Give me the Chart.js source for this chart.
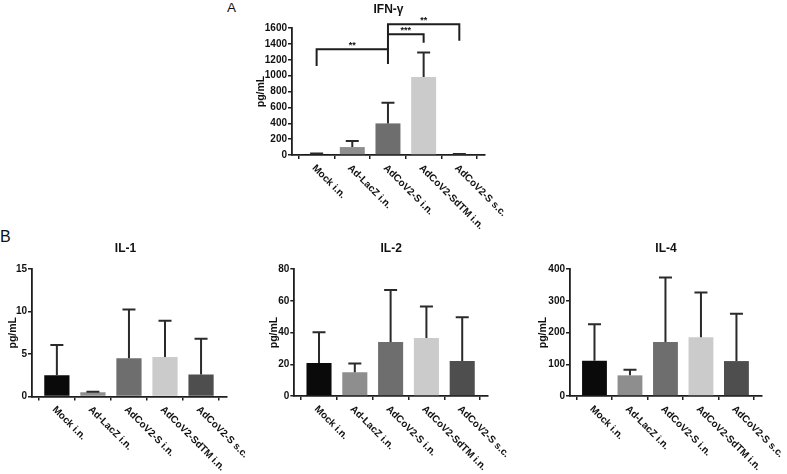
<!DOCTYPE html>
<html><head><meta charset="utf-8">
<script src="https://cdn.jsdelivr.net/npm/chart.js@4.4.1/dist/chart.umd.min.js"></script>
<style>
html,body{margin:0;padding:0;background:#fff;width:787px;height:474px;overflow:hidden;position:relative;font-family:"Liberation Sans",Arial,sans-serif}
canvas{position:absolute}
.lab{position:absolute;font-family:"Liberation Sans",Arial,sans-serif;color:#111;line-height:1}
</style></head><body>
<div class="lab" style="left:227px;top:1px;font-size:13.5px">A</div>
<div class="lab" style="left:0px;top:229px;font-size:16px">B</div>
<canvas id="cA" width="340" height="240" style="left:200px;top:0px"></canvas>
<canvas id="c1" width="262" height="244" style="left:0px;top:230px"></canvas>
<canvas id="c2" width="270" height="244" style="left:260px;top:230px"></canvas>
<canvas id="c4" width="267" height="244" style="left:520px;top:230px"></canvas>
<script>
// ---- data ----
const categories = ['Mock i.n.', 'Ad-LacZ i.n.', 'AdCoV2-S i.n.', 'AdCoV2-SdTM i.n.', 'AdCoV2-S s.c.'];
const barColors = ['#0a0a0a', '#8e8e8e', '#6e6e6e', '#cbcbcb', '#4e4e4e'];

const ifnMean  = [13, 100, 398, 982, 10];
const ifnUpper = [18, 176, 658, 1290, 12];
const ifnTicks = [0, 200, 400, 600, 800, 1000, 1200, 1400, 1600];

const il1Mean  = [2.5, 0.5, 4.5, 4.65, 2.6];
const il1Upper = [6.05, 0.55, 10.25, 8.9, 6.8];
const il1Ticks = [0, 5, 10, 15];

const il2Mean  = [20.8, 14.9, 34.0, 36.5, 22.0];
const il2Upper = [40.1, 20.4, 66.8, 56.3, 49.6];
const il2Ticks = [0, 20, 40, 60, 80];

const il4Mean  = [111, 65, 170, 185, 110];
const il4Upper = [226, 83, 373, 326, 259];
const il4Ticks = [0, 100, 200, 300, 400];

// significance brackets for IFN-γ (from group, to group, bar height, leg ends, label)
const ifnBrackets = [
  {from: 0, to: 2, y: 1332, legFrom: 1122, legTo: 1147, label: '**'},
  {from: 2, to: 3, y: 1520, legFrom: 1520, legTo: 1415, label: '***'},
  {from: 2, to: 4, y: 1646, legFrom: 1332, legTo: 1440, label: '**'}
];

// ---- drawing ----
const FONT = '"Liberation Sans", Arial, sans-serif';
Chart.defaults.font.family = FONT;
const INK = '#1e1e1e';
const extras = {};

const annot = {
  id: 'annot',
  afterDatasetsDraw(chart) {
    const e = extras[chart.canvas.id];
    const {ctx, chartArea} = chart;
    const x = chart.scales.x, y = chart.scales.y;
    ctx.save();
    // error bars (upper)
    ctx.strokeStyle = '#2a2a2a';
    ctx.lineWidth = 2;
    e.upper.forEach((u, i) => {
      const px = x.getPixelForValue(i);
      const top = y.getPixelForValue(u);
      const base = y.getPixelForValue(e.mean[i]);
      ctx.beginPath();
      ctx.moveTo(px, base); ctx.lineTo(px, top);
      ctx.moveTo(px - 6.5, top); ctx.lineTo(px + 6.5, top);
      ctx.stroke();
    });
    // x labels rotated
    ctx.fillStyle = '#111';
    ctx.font = 'bold 10px ' + FONT;
    ctx.textAlign = 'left';
    ctx.textBaseline = 'middle';
    categories.forEach((c, i) => {
      const px = x.getPixelForValue(i);
      ctx.save();
      ctx.translate(px - 3, chartArea.bottom + 11.5);
      ctx.rotate(Math.PI / 4);
      ctx.fillText(c, 0, 0);
      ctx.restore();
    });
    // y title
    ctx.save();
    ctx.font = 'bold 10.5px ' + FONT;
    ctx.textAlign = 'center';
    ctx.textBaseline = 'middle';
    ctx.translate(chartArea.left - e.yTitleOff, (chartArea.top + chartArea.bottom) / 2);
    ctx.rotate(-Math.PI / 2);
    ctx.fillText('pg/mL', 0, 0);
    ctx.restore();
    // chart title
    ctx.font = 'bold 12px ' + FONT;
    ctx.textAlign = 'center';
    ctx.textBaseline = 'middle';
    ctx.fillText(e.title, (chartArea.left + chartArea.right) / 2 + (e.titleDx || 0), e.titleY);
    // brackets
    if (e.brackets) {
      ctx.strokeStyle = INK;
      ctx.lineWidth = 2;
      ctx.font = 'bold 9px ' + FONT;
      ctx.textBaseline = 'alphabetic';
      e.brackets.forEach(b => {
        const x1 = x.getPixelForValue(b.from), x2 = x.getPixelForValue(b.to);
        const yy = y.getPixelForValue(b.y);
        ctx.beginPath();
        ctx.moveTo(x1, y.getPixelForValue(b.legFrom));
        ctx.lineTo(x1, yy);
        ctx.lineTo(x2, yy);
        ctx.lineTo(x2, y.getPixelForValue(b.legTo));
        ctx.stroke();
        ctx.fillText(b.label, (x1 + x2) / 2, yy - 1);
      });
    }
    ctx.restore();
  }
};

function makeChart(id, mean, upper, yTicks, lay, extra) {
  extras[id] = Object.assign({mean, upper}, extra);
  const axisGrid = {display: true, drawOnChartArea: false, drawTicks: true, tickLength: 4, color: INK, lineWidth: 1.5};
  const axisBorder = {display: true, color: INK, width: 1.8};
  return new Chart(document.getElementById(id), {
    type: 'bar',
    data: {
      datasets: [{
        data: mean.map((v, i) => ({x: i, y: v})),
        backgroundColor: barColors,
        borderWidth: 0,
        barPercentage: 0.7,
        categoryPercentage: 1
      }]
    },
    options: {
      responsive: false,
      animation: false,
      devicePixelRatio: 1,
      layout: {padding: {left: 0, top: lay.top, right: lay.right, bottom: 0}},
      plugins: {legend: {display: false}, tooltip: {enabled: false}, title: {display: false}},
      scales: {
        x: {
          type: 'linear', min: -0.69, max: 4.72, offset: false,
          afterBuildTicks: s => { s.ticks = categories.map((c, i) => ({value: i})); },
          afterFit: s => { s.height = lay.xh; },
          ticks: {display: false},
          grid: axisGrid,
          border: axisBorder
        },
        y: {
          type: 'linear', min: 0, max: yTicks[yTicks.length - 1],
          afterBuildTicks: s => { s.ticks = yTicks.map(v => ({value: v})); },
          afterFit: s => { s.width = lay.yw; },
          ticks: {font: {family: FONT, weight: 'bold', size: 10}, color: '#111', padding: 1,
                  callback: v => String(v)},
          grid: axisGrid,
          border: axisBorder
        }
      }
    },
    plugins: [annot]
  });
}

makeChart('cA', ifnMean, ifnUpper, ifnTicks,
  {top: 28, right: 55, xh: 85, yw: 92},
  {title: 'IFN-γ', titleY: 10, yTitleOff: 31, brackets: ifnBrackets});
makeChart('c1', il1Mean, il1Upper, il1Ticks,
  {top: 39, right: 35, xh: 77.5, yw: 32},
  {title: 'IL-1', titleY: 19, titleDx: -4, yTitleOff: 18.5});
makeChart('c2', il2Mean, il2Upper, il2Ticks,
  {top: 39, right: 42, xh: 78, yw: 34.3},
  {title: 'IL-2', titleY: 19, yTitleOff: 20});
makeChart('c4', il4Mean, il4Upper, il4Ticks,
  {top: 39, right: 25, xh: 78, yw: 50},
  {title: 'IL-4', titleY: 19, yTitleOff: 26.5});
</script>
</body></html>
